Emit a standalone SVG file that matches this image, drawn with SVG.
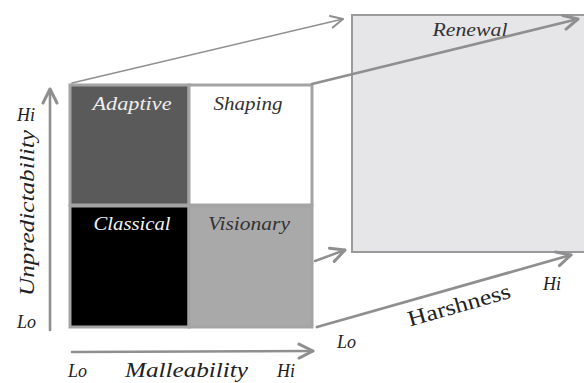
<svg xmlns="http://www.w3.org/2000/svg" width="584" height="383" viewBox="0 0 584 383">
  <style>
    .lbl { font-family: "Liberation Serif", "DejaVu Serif", serif; font-style: italic; fill: #222; }
    .qt { font-family: "Liberation Serif", "DejaVu Serif", serif; font-style: italic; font-size: 18px; }
    .conn { stroke: #8f8f8f; fill: none; stroke-linecap: round; }
    .cell { stroke: #a4a4a4; stroke-width: 3; }
  </style>
  <defs>
    <marker id="chev" markerUnits="userSpaceOnUse" markerWidth="16" markerHeight="16" viewBox="0 0 16 16" refX="14" refY="8" orient="auto">
      <path d="M2,2 L14,8 L2,14" fill="none" stroke="#8f8f8f" stroke-width="2" stroke-linecap="round" stroke-linejoin="round"/>
    </marker>
    <marker id="chevBig" markerUnits="userSpaceOnUse" markerWidth="18" markerHeight="18" viewBox="0 0 18 18" refX="16" refY="9" orient="auto">
      <path d="M2,2 L16,9 L2,16" fill="none" stroke="#8f8f8f" stroke-width="3" stroke-linecap="round" stroke-linejoin="round"/>
    </marker>
  </defs>

  <!-- third-dimension panel -->
  <g id="renewal">
    <rect x="352" y="15" width="240" height="237" fill="#e6e6e9" stroke="#9a9a9a" stroke-width="2"/>
    <text class="qt" x="470" y="36" text-anchor="middle" fill="#333" textLength="75" lengthAdjust="spacingAndGlyphs">Renewal</text>
  </g>

  <!-- 2x2 matrix cells -->
  <g id="adaptive">
    <rect class="cell" x="70" y="85" width="119" height="120" fill="#5a5a5a"/>
    <text class="qt" x="132" y="110" text-anchor="middle" fill="#eeeeee" textLength="79" lengthAdjust="spacingAndGlyphs">Adaptive</text>
  </g>
  <g id="shaping">
    <rect class="cell" x="189" y="85" width="123" height="120" fill="#ffffff"/>
    <text class="qt" x="248" y="110" text-anchor="middle" fill="#333" textLength="69" lengthAdjust="spacingAndGlyphs">Shaping</text>
  </g>
  <g id="classical">
    <rect class="cell" x="70" y="206" width="119" height="121" fill="#000000"/>
    <text class="qt" x="132" y="230" text-anchor="middle" fill="#f2f2f2" textLength="77" lengthAdjust="spacingAndGlyphs">Classical</text>
  </g>
  <g id="visionary">
    <rect class="cell" x="189" y="206" width="123" height="121" fill="#a9a9a9"/>
    <text class="qt" x="249" y="230" text-anchor="middle" fill="#333" textLength="82" lengthAdjust="spacingAndGlyphs">Visionary</text>
  </g>

  <!-- connectors -->
  <g id="connectors">
    <line class="conn" x1="72" y1="83" x2="343" y2="19" stroke-width="1.6" marker-end="url(#chev)"/>
    <line class="conn" x1="312" y1="84" x2="578" y2="19" stroke-width="2.6" marker-end="url(#chevBig)"/>
    <line class="conn" x1="315" y1="261" x2="345" y2="250" stroke-width="2.4" marker-end="url(#chevBig)"/>
    <line class="conn" x1="317" y1="327" x2="571" y2="255" stroke-width="2.8" marker-end="url(#chevBig)"/>
    <line class="conn" x1="50" y1="330" x2="50" y2="89" stroke-width="2.6" marker-end="url(#chevBig)"/>
    <line class="conn" x1="72" y1="352" x2="313" y2="351" stroke-width="2.6" marker-end="url(#chevBig)"/>
  </g>

  <!-- axis labels -->
  <g id="axis-labels">
    <text class="lbl" x="17" y="121" font-size="18">Hi</text>
    <text class="lbl" x="17" y="328" font-size="18">Lo</text>
    <text class="lbl" transform="translate(34 213) rotate(-90)" text-anchor="middle" font-size="21" textLength="166" lengthAdjust="spacingAndGlyphs">Unpredictability</text>
    <text class="lbl" x="68" y="377" font-size="18">Lo</text>
    <text class="lbl" x="125" y="377" font-size="21" textLength="123" lengthAdjust="spacingAndGlyphs">Malleability</text>
    <text class="lbl" x="277" y="377" font-size="18">Hi</text>
    <text class="lbl" x="337" y="348" font-size="18">Lo</text>
    <text class="lbl" x="543" y="290" font-size="18">Hi</text>
    <text transform="translate(461 312) rotate(-16)" text-anchor="middle" font-family="Liberation Serif, DejaVu Serif, serif" font-size="22" fill="#222" textLength="106" lengthAdjust="spacingAndGlyphs">Harshness</text>
  </g>
</svg>
